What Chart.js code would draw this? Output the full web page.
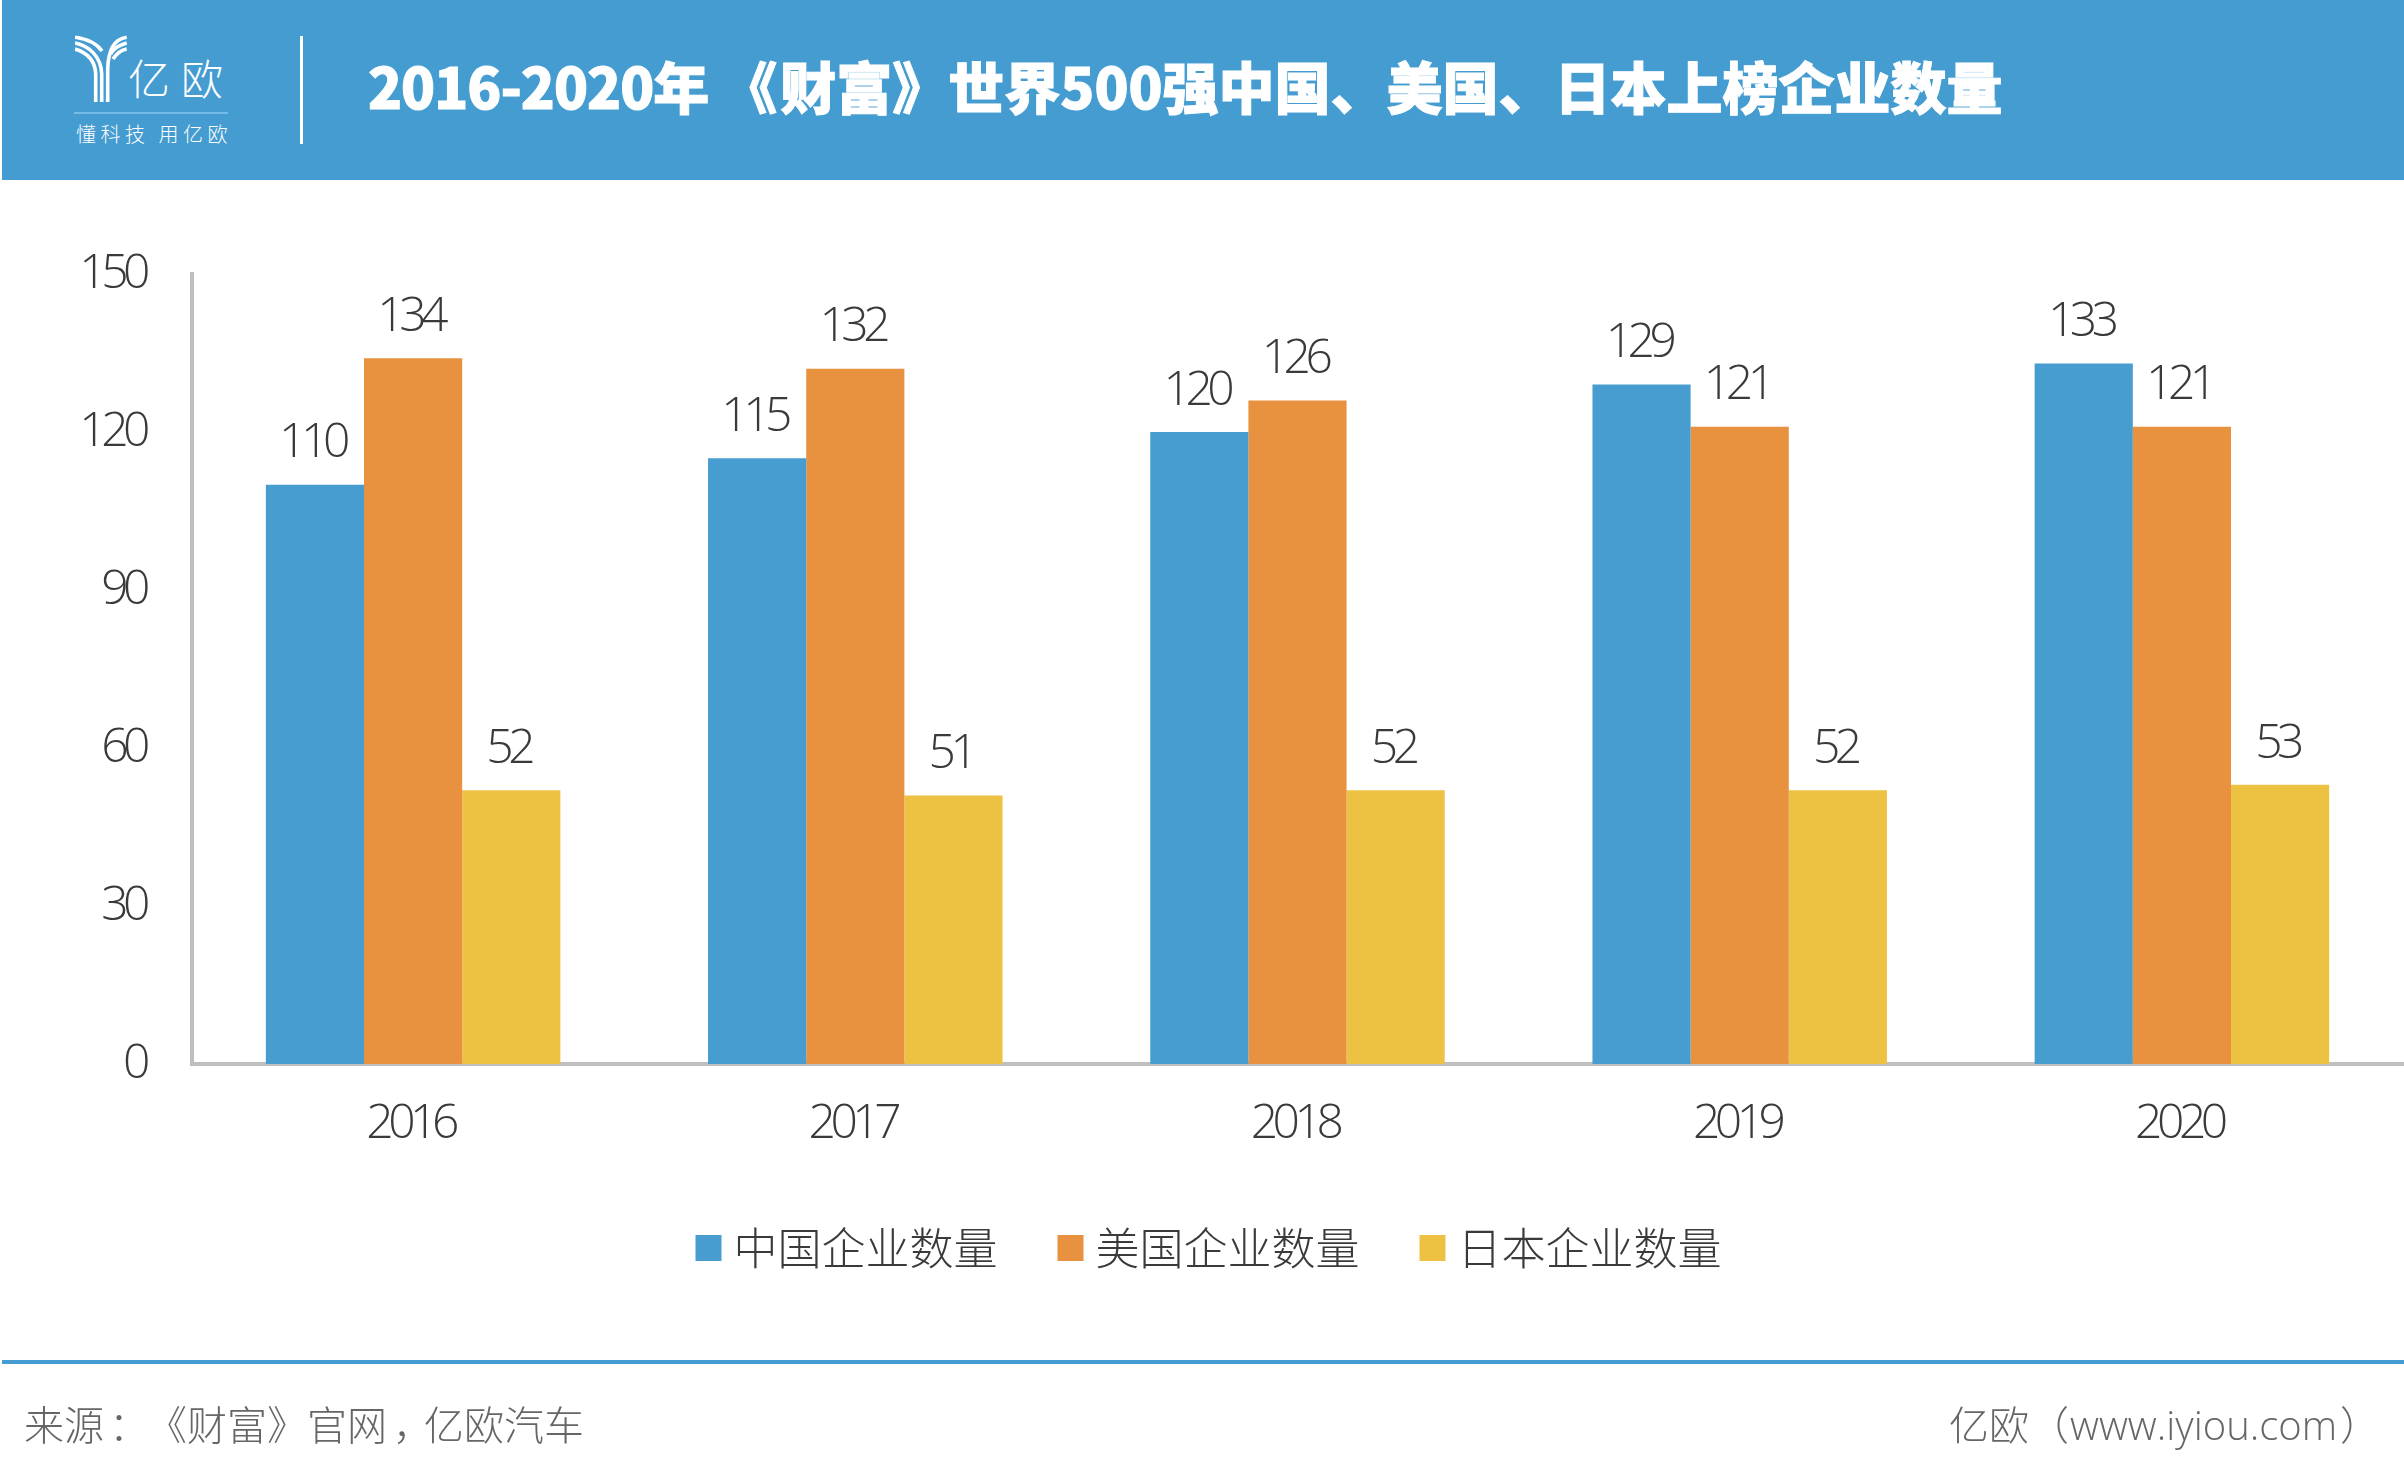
<!DOCTYPE html>
<html lang="zh-CN">
<head>
<meta charset="utf-8">
<title>2016-2020年《财富》世界500强中国、美国、日本上榜企业数量</title>
<script src="https://cdn.jsdelivr.net/npm/chart.js@4/dist/chart.umd.min.js"></script>
<style>
  html, body { margin: 0; padding: 0; background: #fff; }
  body { width: 2404px; height: 1480px; position: relative; overflow: hidden; font-family: "Noto Sans CJK SC", sans-serif; }
  #chart { position: absolute; left: 0; top: 0; width: 2404px; height: 1480px; }
  #header { position: absolute; left: 2px; top: 0; width: 2402px; height: 180px; background: #449cd1; }
  #divider { position: absolute; left: 298px; top: 36px; width: 3px; height: 108px; background: #fff; }
  #logoMark { position: absolute; left: 73px; top: 34px; }
  #logoName { position: absolute; left: 126px; top: 47px; font-size: 42px; font-weight: 300; letter-spacing: 11px; color: #fff; line-height: 60px; white-space: nowrap; }
  #logoRule { position: absolute; left: 72px; top: 112px; width: 154px; height: 2px; background: #74bce8; }
  #logoTag { position: absolute; left: 74px; top: 120px; font-size: 20px; font-weight: 300; letter-spacing: 4.5px; color: #fff; line-height: 28px; white-space: nowrap; }
  #title { position: absolute; left: 366px; top: 45px; font-size: 56px; font-weight: 900; color: #fff; line-height: 80px; white-space: nowrap; -webkit-text-stroke: 1px #fff; }
  #rule { position: absolute; left: 2px; top: 1360px; width: 2402px; height: 4px; background: #449cd1; }
  .foot { position: absolute; top: 1396px; font-size: 40px; font-weight: 300; color: #666; line-height: 54px; white-space: nowrap; }
  .tc { font-family: "Noto Sans CJK TC", sans-serif; }
  .latin { font-family: "Open Sans", sans-serif; margin-left: 1px; }
</style>
</head>
<body>
<canvas id="chart" width="2404" height="1480"></canvas>
<div id="header">
  <svg id="logoMark" width="60" height="72" viewBox="0 0 60 72" fill="none" stroke="#fff" stroke-width="3.6">
    <path d="M0 15 C10 18 20 24 20.7 40 V68"/>
    <path d="M0 9 C14 12 26 22 26.7 40 V68"/>
    <path d="M0 3.3 C12 5 22 10 27 17"/>
    <path d="M51.7 3.3 C40 5 33 14 32.7 36 V68"/>
    <path d="M51.7 9 C44 11 39 14 35.5 20"/>
    <path d="M51.7 15 C46 16 42 19 38 25"/>
  </svg>
  <div id="logoName">亿欧</div>
  <div id="logoRule"></div>
  <div id="logoTag">懂科技 用亿欧</div>
  <div id="divider"></div>
  <div id="title"><span style="letter-spacing:-1px">2016-2020</span>年<span class="tc" style="margin-left:12px;margin-right:3px">《</span>财富<span class="tc">》</span>世界500强中国、美国、日本上榜企业数量</div>
</div>
<div id="rule"></div>
<div class="foot" style="left:24px">来源<span class="tc" style="margin-left:5px;margin-right:18px">：</span><span class="tc">《</span>财富<span class="tc">》</span>官网<span class="tc" style="margin-left:6px;margin-right:-9px">，</span>亿欧汽车</div>
<div class="foot" style="left:1949px">亿欧<span class="tc">（</span><span class="latin">www.iyiou.com</span><span class="tc" style="margin-left:3px">）</span></div>
<script>
const years = ["2016", "2017", "2018", "2019", "2020"];
const chinaCounts = [110, 115, 120, 129, 133];
const usCounts = [134, 132, 126, 121, 121];
const japanCounts = [52, 51, 52, 52, 53];
const seriesNames = ["中国企业数量", "美国企业数量", "日本企业数量"];
const seriesColors = ["#479dcf", "#e8913e", "#edc243"];

const numberFont = { family: '"Open Sans", sans-serif', size: 48, weight: "300" };
const textColor = "#3a3a3a";

// no datalabels plugin available offline, so the numbers are drawn from the bar elements
// reference digits are narrow: tick labels have z 1, so they draw after this and keep the tight spacing
const barValueLabels = {
  id: "barValueLabels",
  afterDatasetsDraw(chart) {
    const ctx = chart.ctx;
    ctx.letterSpacing = "-5.5px";
    ctx.save();
    ctx.font = `${numberFont.weight} ${numberFont.size}px ${numberFont.family}`;
    ctx.fillStyle = textColor;
    ctx.textAlign = "center";
    ctx.textBaseline = "middle";
    chart.data.datasets.forEach((ds, i) => {
      chart.getDatasetMeta(i).data.forEach((bar, j) => {
        ctx.fillText(ds.data[j], bar.x - 3, bar.y - 41);
      });
    });
    ctx.restore();
  },
  afterDraw(chart) {
    chart.ctx.letterSpacing = "0px";
  }
};

new Chart(document.getElementById("chart"), {
  type: "bar",
  data: {
    labels: years,
    datasets: [chinaCounts, usCounts, japanCounts].map((values, i) => ({
      label: seriesNames[i],
      data: values,
      backgroundColor: seriesColors[i],
      categoryPercentage: 0.666,
      barPercentage: 1
    }))
  },
  options: {
    responsive: false,
    animation: false,
    layout: { padding: { top: 274, left: 24, right: 1, bottom: 200 } },
    scales: {
      x: {
        grid: { display: false },
        border: { color: "#bfbfbf", width: 4 },
        ticks: { z: 1, color: textColor, font: numberFont, padding: 24, labelOffset: -3 },
        afterFit(scale) { scale.height = 92; }
      },
      y: {
        min: 0,
        max: 150,
        grid: { display: false },
        border: { color: "#bfbfbf", width: 4 },
        ticks: { z: 1, stepSize: 30, color: textColor, font: numberFont, padding: 39, labelOffset: 0 },
        afterFit(scale) { scale.width = 168; }
      }
    },
    plugins: {
      title: { display: false },
      tooltip: { enabled: false },
      legend: {
        position: "bottom",
        labels: {
          color: textColor,
          padding: 70,
          boxWidth: 6,
          boxHeight: 6,
          font: { family: '"Noto Sans CJK SC", sans-serif', size: 44, weight: "300" },
          // thick stroke around a small box keeps the swatch close to its text
          generateLabels(chart) {
            return chart.data.datasets.map((ds, i) => ({
              text: ds.label,
              fillStyle: ds.backgroundColor,
              strokeStyle: ds.backgroundColor,
              fontColor: textColor,
              lineWidth: 20,
              datasetIndex: i
            }));
          }
        }
      }
    }
  },
  plugins: [barValueLabels]
});
</script>
</body>
</html>
